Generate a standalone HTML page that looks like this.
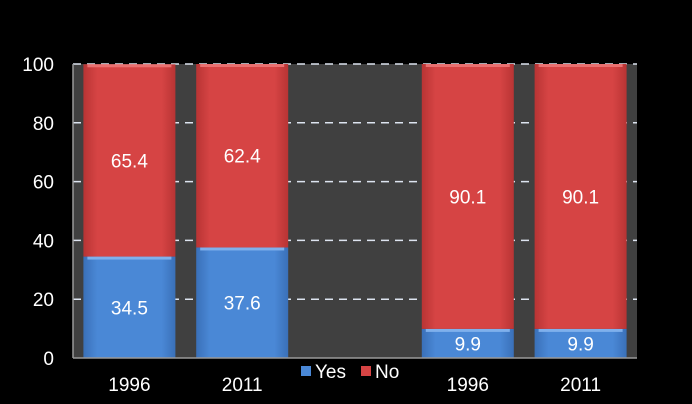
<!DOCTYPE html>
<html><head><meta charset="utf-8"><style>
html,body{margin:0;padding:0;background:#000;}
svg{display:block;font-family:"Liberation Sans",sans-serif;}
</style></head><body>
<svg id="c" width="692" height="404" xmlns="http://www.w3.org/2000/svg">
<defs>
<linearGradient id="gb" x1="0" x2="1" y1="0" y2="0"><stop offset="0" stop-color="#3a70b8"/><stop offset="0.15" stop-color="#4a88d6"/><stop offset="0.85" stop-color="#4a88d6"/><stop offset="1" stop-color="#3a70b8"/></linearGradient>
<linearGradient id="gr" x1="0" x2="1" y1="0" y2="0"><stop offset="0" stop-color="#b83434"/><stop offset="0.15" stop-color="#d64444"/><stop offset="0.85" stop-color="#d64444"/><stop offset="1" stop-color="#b83434"/></linearGradient>
</defs>
<rect x="73" y="64" width="564" height="294" fill="#404040"/>
<g id="grid"></g><g id="bars"></g><g id="labels"></g>
<line x1="73" y1="64" x2="73" y2="358" stroke="#999" stroke-width="1.5"/>
<line x1="73" y1="358" x2="637" y2="358" stroke="#999" stroke-width="1.5"/>
<g>
<rect x="301" y="366" width="10" height="10" fill="#4a88d6"/>
<text x="315" y="378" fill="#fff" font-size="19">Yes</text>
<rect x="361" y="366" width="10" height="10" fill="#d64444"/>
<text x="375" y="378" fill="#fff" font-size="19">No</text>
</g>
</svg>
<script>
const categories=["1996","2011","","1996","2011"];
const yesValues=[34.5,37.6,null,9.9,9.9];
const noValues=[65.4,62.4,null,90.1,90.1];
const yTicks=[0,20,40,60,80,100];
const NS="http://www.w3.org/2000/svg";
const x0=73,x1=637,yTop=64,yBot=358;
const yS=v=>yBot-(v/100)*(yBot-yTop);
const slot=(x1-x0)/categories.length, bw=92;
const xS=i=>x0+slot*i+(slot-bw)/2;
function mk(tag,attrs,parent){const e=document.createElementNS(NS,tag);for(const k in attrs)e.setAttribute(k,attrs[k]);parent.appendChild(e);return e;}
const g=document.getElementById('grid'),b=document.getElementById('bars'),l=document.getElementById('labels');
yTicks.forEach(t=>{
  if(t>0){const ln=mk('line',{x1:x0,x2:x1,y1:yS(t),y2:yS(t),stroke:'#dde4f0','stroke-width':1.5,'stroke-dasharray':'8,6'},g);
  
  }
  const tx=mk('text',{x:54,y:yS(t)+7,fill:'#fff','font-size':19,'text-anchor':'end'},l);
  tx.textContent=t;
  
  
});
categories.forEach((c,i)=>{
  if(c){const tx=mk('text',{x:xS(i)+bw/2,y:391,fill:'#fff','font-size':19,'text-anchor':'middle'},l);
  tx.textContent=c;
  
  }
  if(yesValues[i]==null)return;
  const yv=yesValues[i],nv=noValues[i];
  const r1=mk('rect',{x:xS(i),y:yS(yv),width:bw,height:yBot-yS(yv),fill:'url(#gb)'},b);
  
  
  mk('rect',{x:xS(i)+4,y:yS(yv),width:bw-8,height:3,fill:'#7fb0ec'},b);
  const r2=mk('rect',{x:xS(i),y:yS(yv+nv),width:bw,height:yS(yv)-yS(yv+nv),fill:'url(#gr)'},b);
  
  
  mk('rect',{x:xS(i)+4,y:yS(yv+nv),width:bw-8,height:3,fill:'#ea7070'},b);
  const t1=mk('text',{x:xS(i)+bw/2,y:(yS(yv)+yBot)/2+7,fill:'#fff','font-size':19,'text-anchor':'middle'},l);
  t1.textContent=yv;
  
  
  const t2=mk('text',{x:xS(i)+bw/2,y:(yS(yv)+yS(yv+nv))/2+7,fill:'#fff','font-size':19,'text-anchor':'middle'},l);
  t2.textContent=nv;
  
  
});
</script>
</body></html>
